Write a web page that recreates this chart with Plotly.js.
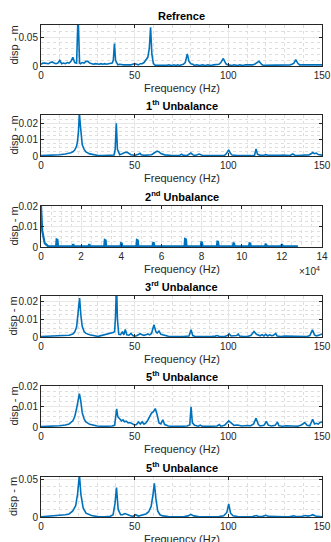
<!DOCTYPE html>
<html>
<head>
<meta charset="utf-8">
<script src="https://cdn.plot.ly/plotly-3.0.1.min.js"></script>
<style>html,body{margin:0;padding:0;background:#fff;}#chart{width:331px;height:542px;}</style>
</head>
<body>
<div id="chart"></div>
<script>
// ---- data: [frequency (Hz), displacement (m)] ----
const refrence = [
 [0,0.003],[1,0.005],[2,0.005],[3,0.004],[4,0.004],[5,0.006],[6,0.007],[7,0.005],[8,0.004],[9,0.005],
 [10,0.010],[11,0.004],[12,0.005],[13,0.004],[14,0.006],[15,0.005],[16,0.008],[17,0.015],[18,0.006],[19,0.005],
 [19.8,0.09],[20.6,0.005],[21,0.004],[22,0.006],[23,0.005],[24,0.008],[25,0.008],[26,0.005],[27,0.004],[28,0.003],
 [29,0.004],[30,0.003],[31,0.003],[32,0.004],[33,0.003],[34,0.004],[35,0.003],[36,0.004],[37,0.004],[38,0.005],
 [38.6,0.01],[39.2,0.039],[39.8,0.01],[40.5,0.003],[41,0.002],[42,0.003],[43,0.002],[44,0.002],[45,0.002],[46,0.002],
 [47,0.001],[48,0.002],[49,0.003],[50,0.004],[51,0.003],[52,0.002],[53,0.004],[54,0.004],[55,0.006],[56,0.01],
 [57,0.015],[57.8,0.03],[58.5,0.067],[59.2,0.02],[60,0.004],[61,0.001],[62,0.001],[63,0.0005],[64,0.0005],[65,0.001],
 [66,0.0005],[67,0.001],[68,0.002],[69,0.001],[70,0.001],[71,0.002],[72,0.001],[73,0.002],[74,0.001],[75,0.002],
 [76,0.003],[77,0.006],[78.1,0.021],[79,0.008],[80,0.004],[81,0.003],[82,0.001],[83,0.002],[84,0.001],[85,0.001],
 [86,0.002],[87,0.001],[88,0.001],[89,0.002],[90,0.001],[91,0.001],[92,0.002],[93,0.002],[94,0.003],[95,0.003],
 [96,0.006],[97.3,0.013],[98.5,0.005],[99,0.003],[100,0.002],[101,0.001],[102,0.001],[103,0.002],[104,0.001],[105,0.001],
 [106,0.002],[107,0.001],[108,0.001],[109,0.002],[110,0.002],[111,0.001],[112,0.002],[113,0.002],[114,0.003],[115,0.005],
 [116.4,0.008],[117.5,0.004],[118,0.002],[119,0.001],[120,0.001],[121,0.002],[122,0.001],[123,0.001],[124,0.002],[125,0.001],
 [126,0.002],[127,0.001],[128,0.001],[129,0.001],[130,0.002],[131,0.001],[132,0.002],[133,0.002],[134,0.003],[135,0.005],
 [136,0.011],[137,0.005],[138,0.002],[139,0.002],[140,0.001],[141,0.002],[142,0.002],[143,0.001],[144,0.002],[145,0.002],
 [146,0.002],[147,0.001],[148,0.002],[149,0.002],[150,0.002]
];
const unbalance1 = [
 [0,0.0002],[5,0.0004],[10,0.0008],[13,0.0012],[15,0.0016],[16,0.002],[17,0.0026],[18,0.0036],[19,0.006],[19.5,0.009],
 [20,0.015],[20.5,0.026],[21,0.019],[21.5,0.011],[22,0.007],[23,0.004],[24,0.0025],[26,0.0013],[28,0.0007],[30,0.0004],
 [33,0.0002],[36,0.0002],[38,0.0003],[39,0.0006],[39.6,0.004],[40.2,0.020],[40.8,0.004],[41.5,0.0012],[42,0.0008],[43,0.0012],
 [44,0.002],[45,0.0023],[46,0.0022],[47,0.0015],[48,0.0008],[50,0.0004],[51,0.0005],[52,0.001],[52.8,0.0016],[53.5,0.0008],
 [55,0.0004],[57,0.0004],[59,0.0008],[60,0.0015],[61,0.0025],[62,0.003],[63,0.0025],[64,0.0015],[66,0.0007],[68,0.0004],
 [70,0.0003],[72,0.0003],[74,0.0004],[75,0.0011],[76,0.0004],[78,0.0003],[79,0.0008],[80,0.0018],[81,0.0008],[82,0.0003],
 [83,0.0006],[84.5,0.0012],[86,0.0005],[88,0.0002],[90,0.0002],[92,0.0002],[95,0.0002],[98,0.0004],[99,0.0015],[100.2,0.0037],
 [101.2,0.0015],[102,0.0006],[104,0.0004],[106,0.0003],[108,0.0002],[110,0.0002],[112,0.0002],[114,0.0005],[114.8,0.0043],[115.6,0.001],
 [117,0.0004],[119,0.0005],[120,0.0008],[121,0.0005],[123,0.0004],[125,0.0006],[127,0.0004],[128,0.0005],[129,0.0006],[131,0.0004],
 [133,0.0003],[134.4,0.0012],[135.5,0.0005],[137,0.0003],[139,0.0003],[141,0.0005],[143,0.0007],[144,0.0012],[145,0.0021],[146,0.0014],
 [147,0.0018],[148,0.0009],[149,0.0006],[150,0.0005]
];
const unbalance2 = [
 [0,0.02],[300,0.012],[600,0.008],[900,0.0065],[1200,0.0045],[1500,0.003],[1800,0.002],[2200,0.0015],[2600,0.001],[3000,0.0006],
 [3500,0.0004],[5000,0.0003],[7500,0.0003],[7800,0.0037],[8200,0.0035],[8500,0.0003],[15600,0.0003],[15900,0.001],[16200,0.001],[16500,0.0003],
 [23600,0.0003],[23900,0.001],[24200,0.001],[24500,0.0003],[31500,0.0003],[31800,0.0034],[32200,0.0032],[32500,0.0003],[39600,0.0003],[39900,0.0019],
 [40200,0.0018],[40500,0.0003],[47500,0.0003],[47800,0.0034],[48200,0.0032],[48500,0.0003],[55600,0.0003],[55900,0.002],[56200,0.0019],[56500,0.0003],
 [63600,0.0003],[63900,0.0006],[64200,0.0006],[64500,0.0003],[65700,0.0003],[66000,0.0006],[66300,0.0006],[66600,0.0003],[71500,0.0003],[71800,0.0039],
 [72200,0.0037],[72500,0.0003],[79600,0.0003],[79900,0.0023],[80200,0.0022],[80500,0.0003],[87600,0.0003],[87900,0.0026],[88200,0.0025],[88500,0.0003],
 [95600,0.0003],[95900,0.0018],[96200,0.0017],[96500,0.0003],[103600,0.0003],[103900,0.0018],[104200,0.0017],[104500,0.0003],[111600,0.0003],[111900,0.0013],
 [112200,0.0012],[112500,0.0003],[119600,0.0003],[119900,0.001],[120200,0.001],[120500,0.0003],[128000,0.0003]
];
const unbalance3 = [
 [0,0.0003],[5,0.0004],[10,0.0006],[13,0.0008],[15,0.001],[17,0.0017],[18,0.0028],[19,0.0055],[19.8,0.012],[20.6,0.0217],
 [21.3,0.012],[22,0.006],[23,0.003],[24,0.002],[26,0.0012],[28,0.0007],[30,0.0004],[31,0.0005],[33,0.001],[35,0.0017],
 [37,0.0022],[38.5,0.0025],[39.3,0.003],[39.8,0.012],[40.3,0.03],[40.8,0.01],[41.5,0.0015],[42.5,0.0013],[43.5,0.003],[44.2,0.0012],
 [45,0.0042],[45.8,0.0012],[47,0.001],[48,0.002],[49,0.0008],[50,0.0005],[51,0.0007],[52,0.0012],[53,0.0018],[54,0.0012],
 [55,0.0009],[56,0.0012],[57,0.0017],[58,0.0012],[59,0.002],[60.3,0.0068],[61.3,0.003],[62,0.0022],[63,0.0033],[64,0.0015],
 [65,0.0012],[66,0.0007],[68,0.0004],[70,0.0003],[73,0.0002],[76,0.0003],[79,0.0006],[80.1,0.004],[81,0.0008],[82,0.0004],
 [85,0.0003],[88,0.0002],[91,0.0003],[93,0.0005],[94,0.0008],[95,0.0004],[98,0.0003],[99.5,0.0008],[100.4,0.0017],[101.5,0.0006],
 [103,0.0005],[104.5,0.0008],[105.3,0.0017],[106,0.0006],[108,0.0003],[110,0.0003],[112,0.0008],[113.7,0.0031],[115,0.0015],[116,0.001],
 [117,0.0007],[118,0.0013],[119,0.0006],[120,0.0015],[121,0.0006],[122,0.0012],[123,0.0008],[124,0.0009],[125.3,0.002],[126,0.0006],
 [128,0.0003],[130,0.0005],[132,0.0004],[134,0.0007],[136,0.0005],[138,0.0003],[140,0.0004],[142,0.0003],[143.5,0.0008],[144.9,0.004],
 [146,0.0012],[147,0.0006],[148,0.0009],[149,0.0012],[150,0.0017]
];
const unbalance5a = [
 [0,0.0002],[5,0.0003],[10,0.0006],[13,0.001],[15,0.0015],[17,0.003],[18,0.005],[19,0.009],[19.7,0.013],[20.5,0.0163],
 [21.2,0.013],[22,0.007],[23,0.004],[24,0.0025],[26,0.0013],[28,0.0008],[30,0.0005],[33,0.0003],[36,0.0003],[38,0.0005],
 [39.3,0.0008],[40,0.006],[40.4,0.0088],[41,0.005],[42,0.0042],[43,0.003],[43.8,0.0035],[44.5,0.0025],[45.5,0.0028],[46.5,0.002],
 [47.5,0.0022],[48.5,0.0018],[50,0.001],[51,0.0012],[52,0.0024],[53,0.0014],[54,0.0025],[55,0.0014],[56,0.002],[57,0.0033],
 [58,0.0055],[59,0.0068],[60,0.0075],[61,0.009],[62,0.006],[63,0.002],[64,0.0015],[65,0.0035],[66,0.0012],[68,0.0005],
 [70,0.0003],[73,0.0002],[76,0.0004],[78,0.0005],[79.4,0.001],[80.1,0.0098],[80.8,0.002],[82,0.0008],[84,0.0004],[85,0.0009],
 [86,0.0004],[88,0.0003],[90,0.0004],[92,0.0003],[94,0.0005],[95.2,0.0012],[96,0.0004],[98,0.0008],[99,0.0018],[100.2,0.003],
 [101.5,0.002],[103,0.0008],[105,0.001],[107,0.0005],[110,0.0007],[112,0.0006],[113.5,0.0015],[114.8,0.0043],[116,0.0012],[117,0.0005],
 [119,0.0008],[120.3,0.0027],[121.3,0.0009],[123,0.0005],[125,0.0008],[126.2,0.0024],[127,0.0006],[129,0.0004],[131,0.0006],[133,0.0005],
 [135,0.0004],[137,0.0004],[139,0.001],[140.8,0.0022],[142,0.0008],[143.5,0.0006],[145,0.0038],[146,0.0015],[147,0.0018],[148,0.0014],
 [149,0.0022],[150,0.0025]
];
const unbalance5b = [
 [0,0.0003],[5,0.001],[10,0.002],[13,0.003],[15,0.004],[17,0.008],[18.5,0.015],[19.5,0.03],[20.5,0.056],[21.3,0.03],
 [22.5,0.012],[24,0.005],[27,0.002],[30,0.0006],[34,0.0003],[37,0.001],[38.5,0.003],[39.5,0.018],[40.3,0.039],[41.2,0.01],
 [42.5,0.003],[43.5,0.003],[44.8,0.0045],[46,0.003],[47.5,0.002],[49,0.0007],[50.5,0.003],[52,0.0012],[53,0.002],[54.5,0.003],
 [56,0.004],[57.5,0.007],[58.8,0.014],[59.8,0.03],[60.5,0.0447],[61.3,0.025],[62.3,0.008],[63.5,0.003],[65,0.0015],[68,0.0006],
 [72,0.0003],[76,0.0004],[78.5,0.0015],[80,0.0035],[81.5,0.0015],[84,0.0005],[88,0.0003],[92,0.0003],[95,0.0005],[97.5,0.0015],
 [99.2,0.006],[100.2,0.0173],[101.2,0.005],[102.5,0.0015],[105,0.0006],[110,0.0004],[113,0.0005],[115,0.002],[116,0.0006],[118,0.0006],
 [120,0.0022],[121.5,0.0008],[125,0.0004],[130,0.0003],[133,0.0005],[135,0.0015],[136,0.0006],[139,0.0007],[141,0.002],[142.5,0.0012],
 [144,0.002],[145,0.003],[146.5,0.0012],[148,0.0006],[150,0.0004]
];

const titles = ['Refrence','1<sup>th</sup> Unbalance','2<sup>nd</sup> Unbalance','3<sup>rd</sup> Unbalance','5<sup>th</sup> Unbalance','5<sup>th</sup> Unbalance'];
const series = [refrence, unbalance1, unbalance2, unbalance3, unbalance5a, unbalance5b];
const yMax = [0.071, 0.025, 0.02, 0.0229, 0.02, 0.053];
const yStep = [0.05, 0.01, 0.01, 0.01, 0.01, 0.05];
const yMinor = [0.01, 0.0025, 0.0025, 0.0025, 0.0025, 0.01];
const xMaxHz = [150, 150, 140000, 150, 150, 150];
const xTickVals3 = [0,20000,40000,60000,80000,100000,120000,140000];
const xTickText3 = ['0','2','4','6','8','10','12','14'];

// ---- layout (pixel boxes of each axes) ----
const W = 331, H = 542;
const boxes = [[25,66],[115,156],[206,247],[296,337],[386,427],[477,517]];
const xDom = [41/W, 322/W];
const ink = '#262626';
const font = 'Liberation Sans, Arial, Helvetica, sans-serif';
const minorGrid = '#dedede';

const data = [];
const layout = {
  width: W, height: H, margin: {l:0, r:0, t:0, b:0},
  paper_bgcolor: '#fff', plot_bgcolor: '#fff', showlegend: false,
  font: {family: font, color: ink, size: 10},
  annotations: []
};

series.forEach((s, i) => {
  const n = i === 0 ? '' : String(i + 1);
  data.push({
    x: s.map(p => p[0]), y: s.map(p => p[1]),
    xaxis: 'x' + n, yaxis: 'y' + n,
    type: 'scatter', mode: 'lines',
    line: {color: '#0072BD', width: i === 2 ? 2.2 : 1.6},
    hoverinfo: 'skip'
  });
  const [top, bot] = boxes[i];
  const common = {
    showline: true, mirror: 'ticks', linecolor: ink, linewidth: 1,
    ticks: 'inside', ticklen: 3, tickcolor: ink, tickwidth: 1,
    zeroline: false, showgrid: true, gridcolor: '#e8e8e8', gridwidth: 1,
    tickfont: {family: font, size: 10, color: ink}, fixedrange: true
  };
  const xa = Object.assign({}, common, {
    domain: xDom, anchor: 'y' + n, range: [0, xMaxHz[i]]
  });
  if (i === 2) {
    xa.tickmode = 'array'; xa.tickvals = xTickVals3; xa.ticktext = xTickText3;
    xa.minor = {tickmode: 'linear', tick0: 0, dtick: 5000, showgrid: true, gridcolor: minorGrid, griddash: 'dot', ticks: ''};
  } else {
    xa.tickmode = 'linear'; xa.tick0 = 0; xa.dtick = 50;
    xa.minor = {tickmode: 'linear', tick0: 0, dtick: 10, showgrid: true, gridcolor: minorGrid, griddash: 'dot', ticks: ''};
  }
  const ya = Object.assign({}, common, {
    domain: [(H - bot) / H, (H - top) / H], anchor: 'x' + n, range: [0, yMax[i]],
    tickmode: 'linear', tick0: 0, dtick: yStep[i],
    minor: {tickmode: 'linear', tick0: 0, dtick: yMinor[i], showgrid: true, gridcolor: minorGrid, griddash: 'dot', ticks: ''}
  });
  layout['xaxis' + n] = xa;
  layout['yaxis' + n] = ya;

  const xr = 'x' + n + ' domain', yr = 'y' + n + ' domain';
  layout.annotations.push({
    text: '<b>' + titles[i] + '</b>', xref: xr, yref: yr, x: 0.5, y: 1,
    xanchor: 'center', yanchor: 'bottom', yshift: 1, showarrow: false,
    font: {family: font, size: 11, color: '#000'}
  });
  layout.annotations.push({
    text: 'Frequency (Hz)', xref: xr, yref: yr, x: 0.5, y: 0,
    xanchor: 'center', yanchor: 'middle', yshift: -22, showarrow: false,
    font: {family: font, size: 11, color: ink}
  });
  layout.annotations.push({
    text: 'disp - m', xref: 'paper', yref: yr, x: 13 / W, y: 0.5,
    xanchor: 'center', yanchor: 'middle', textangle: -90, showarrow: false,
    font: {family: font, size: 11, color: ink}
  });
  if (i === 2) {
    layout.annotations.push({
      text: '×10<sup>4</sup>', xref: xr, yref: yr, x: 1, y: 0,
      xanchor: 'right', yanchor: 'middle', yshift: -24, showarrow: false,
      font: {family: font, size: 10, color: ink}
    });
  }
});

Plotly.newPlot('chart', data, layout, {staticPlot: true, displayModeBar: false});
</script>
</body>
</html>
